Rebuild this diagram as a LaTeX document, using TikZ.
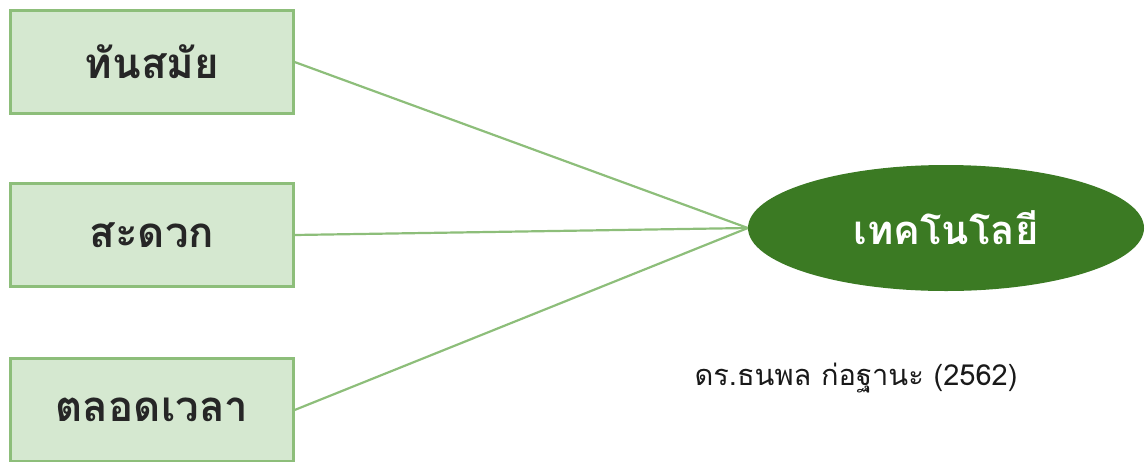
\documentclass[tikz,border=0pt]{standalone}
\usepackage{fontspec}
\newfontfamily\thaifont[Script=Thai]{Loma}
\usetikzlibrary{shapes.geometric}
\definecolor{boxfill}{HTML}{D5E8D0}
\definecolor{boxline}{HTML}{8DBE7A}
\definecolor{ellfill}{HTML}{3B7A23}
\tikzset{
  itembox/.style={draw=boxline, line width=2.2pt, fill=boxfill, minimum width=283pt, minimum height=103pt, inner sep=0pt, font=\thaifont\bfseries\fontsize{42}{46}\selectfont, text=black!85},
  conn/.style={draw=boxline, line width=2.2pt},
  mainell/.style={ellipse, fill=ellfill, minimum width=396pt, minimum height=126pt, inner sep=0pt, font=\thaifont\bfseries\fontsize{40}{44}\selectfont, text=white},
}
\begin{document}
\begin{tikzpicture}[x=1pt,y=-1pt]
\useasboundingbox (0,0) rectangle (1147,461);
\node[itembox] (a) at (152,62) {ทันสมัย};
\node[itembox] (b) at (152,235) {สะดวก};
\node[itembox] (c) at (152,410) {ตลอดเวลา};
\node[mainell] (t) at (946,228) {เทคโนโลยี};
\draw[conn] (a.east) -- (t.west);
\draw[conn] (b.east) -- (t.west);
\draw[conn] (c.east) -- (t.west);
\node[font=\thaifont\fontsize{29}{33}\selectfont, text=black!90] (cite) at (856,378) {ดร.ธนพล ก่อฐานะ (2562)};
\end{tikzpicture}
\end{document}
